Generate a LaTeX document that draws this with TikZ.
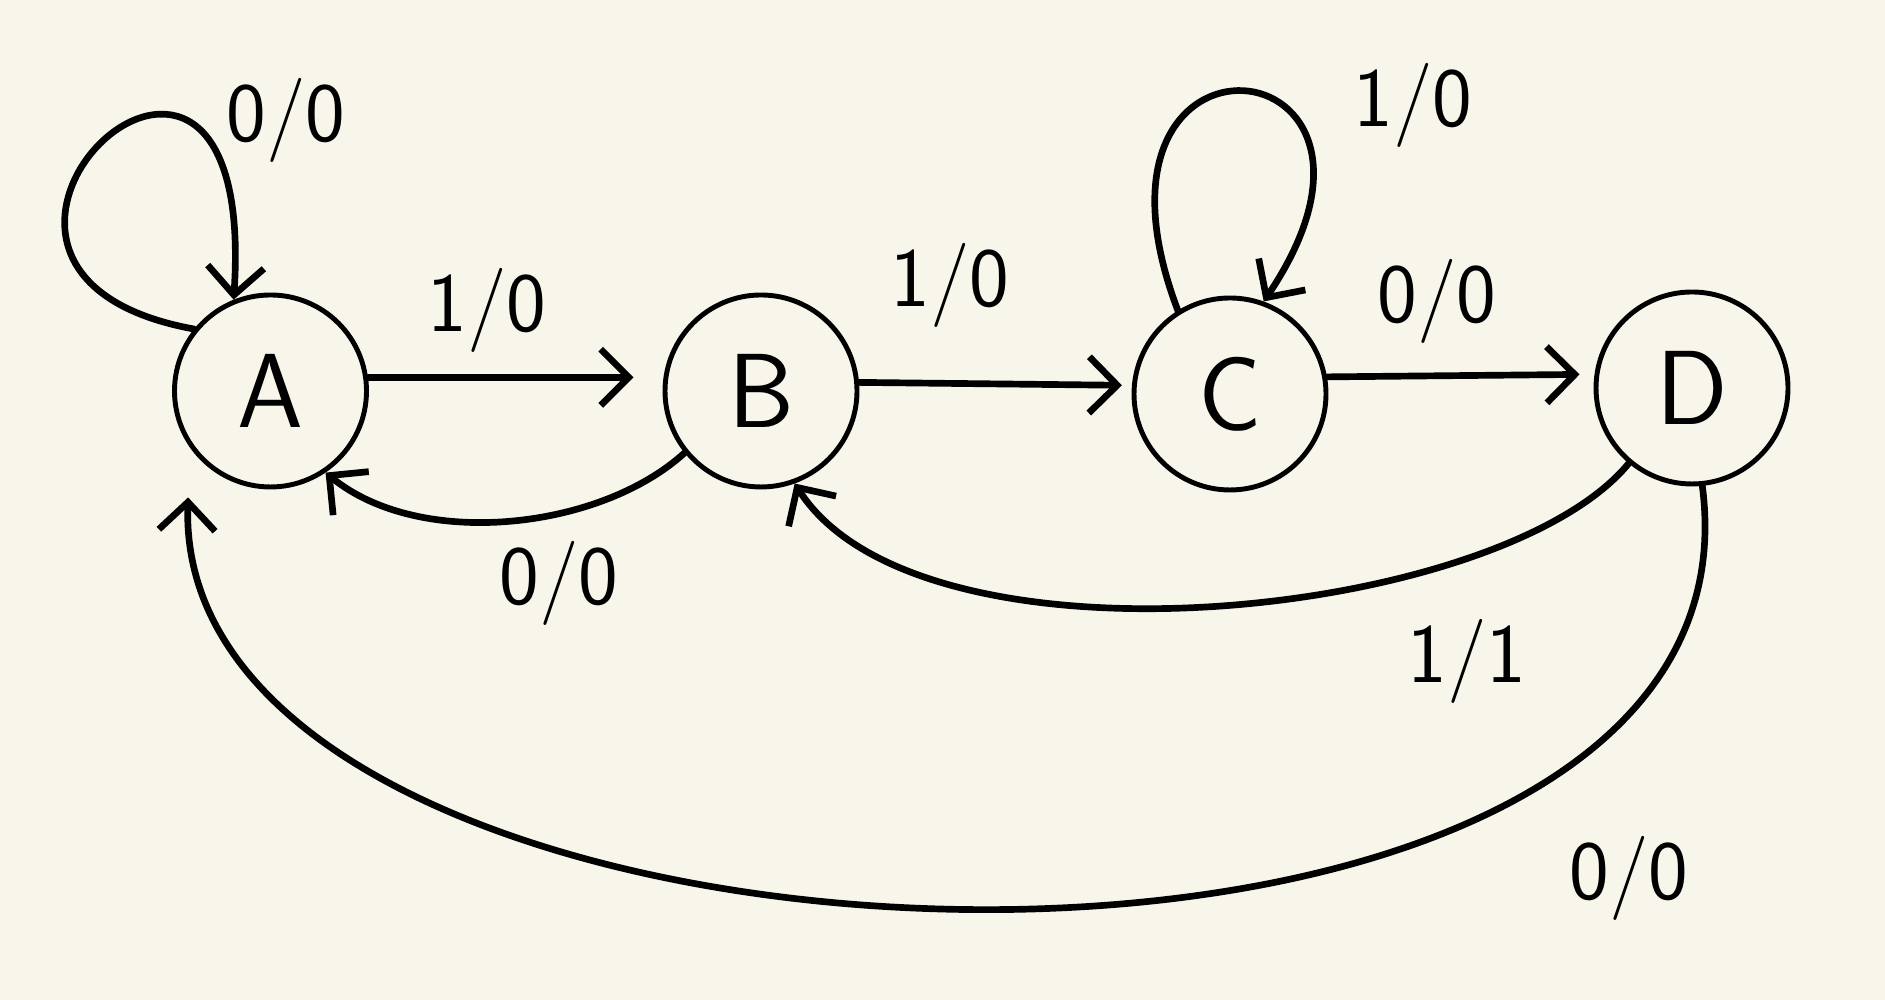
\documentclass[tikz,border=0pt]{standalone}
\usetikzlibrary{arrows.meta}
\definecolor{paper}{RGB}{248,246,235}
\begin{document}
\begin{tikzpicture}[line cap=round,
  state/.style={circle,draw,line width=1.4pt,minimum size=1.92cm,inner sep=0pt,font=\sffamily\fontsize{30}{30}\selectfont},
  lbl/.style={font=\sffamily\fontsize{24}{24}\selectfont},
  edge/.style={line width=1.9pt,-{Straight Barb[length=8pt,width=16pt,line width=1.9pt]}}]
\fill[paper] (0,0) rectangle (18.85,10);
\useasboundingbox (0,0) rectangle (18.85,10);

\node[state] (A) at (2.705,6.09) {A};
\node[state] (B) at (7.61,6.09) {B};
\node[state] (C) at (12.30,6.06) {C};
\node[state] (D) at (16.92,6.12) {D};

% labels
\node[lbl] (lAA) at (2.86,8.80) {0/0};
\node[lbl] (lAB) at (4.87,6.90) {1/0};
\node[lbl] (lBC) at (9.50,7.15) {1/0};
\node[lbl] (lCC) at (14.13,8.95) {1/0};
\node[lbl] (lCD) at (14.37,6.99) {0/0};
\node[lbl] (lBA) at (5.59,4.17) {0/0};
\node[lbl] (lDB) at (14.67,3.39) {1/1};
\node[lbl] (lDA) at (16.29,1.22) {0/0};

% transitions
\draw[edge] (A.141) .. controls (-1.3,7.3) and (2.6,11.0) .. (A.112);
\draw[edge,shorten >=3mm] (A.8) -- (B.172);
\draw[edge,shorten >=1mm] (B.5) -- (C.175);
\draw[edge] (C.122) .. controls (10.6,10.0) and (14.4,9.6) .. (C.70);
\draw[edge,shorten >=1.5mm] (C.10) -- (D.172);
\draw[edge] (B.219) .. controls (6.0,4.7) and (4.2,4.5) .. (A.304);
\draw[edge] (D.230) .. controls (15.0,3.8) and (9.2,3.2) .. (B.290);
\draw[edge,shorten >=5mm] (D.-84) .. controls (17.8,-0.75) and (1.7,-0.2) .. (A.215);
\end{tikzpicture}
\end{document}
